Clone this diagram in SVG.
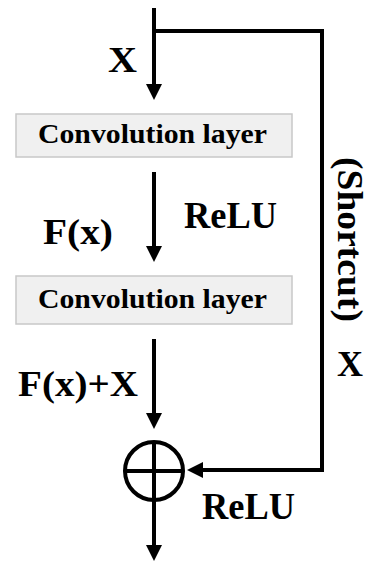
<svg xmlns="http://www.w3.org/2000/svg" width="369" height="563" viewBox="0 0 369 563">
<style>
.t{font-family:"Liberation Serif","Times New Roman",serif;font-weight:bold;fill:#000}
.ln{fill:none;stroke:#000;stroke-width:4;stroke-linejoin:miter}
.box{fill:#f0f0f0;stroke:#c8c8c8;stroke-width:1.5}
</style>
<defs>
<marker id="ah" viewBox="0 0 16 16" refX="6" refY="8" markerWidth="16" markerHeight="16" markerUnits="userSpaceOnUse" orient="auto">
<path d="M0,0 L16,8 L0,16 z" fill="#000"/>
</marker>
</defs>
<g id="connectors">
<path class="ln" d="M154,8 V90" marker-end="url(#ah)"/>
<path class="ln" d="M154,31 H322 V470 H197" marker-end="url(#ah)"/>
<path class="ln" d="M154,172 V252" marker-end="url(#ah)"/>
<path class="ln" d="M154,339 V419" marker-end="url(#ah)"/>
<path class="ln" d="M154,500 V551" marker-end="url(#ah)"/>
</g>
<g id="conv1">
<rect class="box" x="16" y="114" width="276" height="43"/>
<text class="t" x="38" y="143" font-size="27" textLength="229" lengthAdjust="spacingAndGlyphs">Convolution layer</text>
</g>
<g id="conv2">
<rect class="box" x="16" y="276" width="276" height="48"/>
<text class="t" x="38" y="308" font-size="27" textLength="229" lengthAdjust="spacingAndGlyphs">Convolution layer</text>
</g>
<g id="add">
<circle cx="154" cy="471" r="29" fill="none" stroke="#000" stroke-width="4"/>
<path class="ln" d="M125,471 H183 M154,442 V500"/>
</g>
<g id="labels">
<text class="t" x="108" y="72" font-size="36" textLength="29" lengthAdjust="spacingAndGlyphs">X</text>
<text class="t" x="43" y="244" font-size="35" textLength="70" lengthAdjust="spacingAndGlyphs">F(x)</text>
<text class="t" x="184" y="228" font-size="38" textLength="93" lengthAdjust="spacingAndGlyphs">ReLU</text>
<text class="t" x="18" y="396" font-size="35" textLength="120" lengthAdjust="spacingAndGlyphs">F(x)+X</text>
<text class="t" x="202" y="519" font-size="38" textLength="93" lengthAdjust="spacingAndGlyphs">ReLU</text>
<text class="t" x="337" y="376" font-size="36" textLength="26" lengthAdjust="spacingAndGlyphs">X</text>
<text class="t" transform="translate(338,157) rotate(90)" x="0" y="0" font-size="36" textLength="165" lengthAdjust="spacingAndGlyphs">(Shortcut)</text>
</g>
</svg>
